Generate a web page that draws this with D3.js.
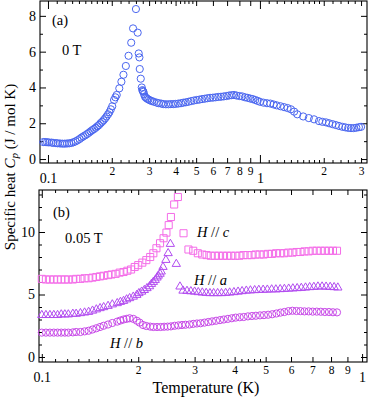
<!DOCTYPE html>
<html>
<head>
<meta charset="utf-8">
<script src="https://cdn.jsdelivr.net/npm/d3@7"></script>
<style>
  html, body { margin: 0; padding: 0; background: #fff; }
  svg { display: block; }
  svg text { font-family: "Liberation Serif", "DejaVu Serif", serif; fill: #000; }
</style>
</head>
<body>
<div id="chart"></div>
<script>
// ---- data ----
// panel (a): 0 T
const tempA = [0.095, 0.097, 0.099, 0.101, 0.104, 0.106, 0.109, 0.111, 0.114, 0.117, 0.120, 0.123,
  0.126, 0.129, 0.132, 0.135, 0.138, 0.141, 0.144, 0.147, 0.150, 0.153, 0.156, 0.159, 0.162, 0.165,
  0.168, 0.171, 0.174, 0.177, 0.180, 0.183, 0.186, 0.189, 0.192, 0.195, 0.198, 0.201, 0.205, 0.208,
  0.211, 0.217, 0.222, 0.227, 0.233, 0.240, 0.247, 0.252, 0.260, 0.265, 0.268, 0.270, 0.271, 0.274,
  0.277, 0.279, 0.280, 0.282, 0.284, 0.287, 0.290, 0.294, 0.298, 0.303, 0.309, 0.316, 0.326, 0.333,
  0.342, 0.350, 0.360, 0.370, 0.380, 0.390, 0.400, 0.412, 0.424, 0.435, 0.447, 0.460, 0.474, 0.488,
  0.503, 0.518, 0.533, 0.549, 0.565, 0.582, 0.600, 0.618, 0.636, 0.655, 0.675, 0.695, 0.715, 0.735,
  0.755, 0.775, 0.800, 0.825, 0.850, 0.875, 0.900, 0.925, 0.950, 0.975, 1.00, 1.04, 1.08, 1.12,
  1.16, 1.20, 1.25, 1.30, 1.35, 1.40, 1.45, 1.50, 1.60, 1.70, 1.80, 1.90, 1.97, 2.05, 2.12, 2.20, 2.28,
  2.36, 2.45, 2.53, 2.61, 2.69, 2.77, 2.85, 2.93, 3.00];
const cpA = [0.95, 0.95, 0.94, 0.93, 0.92, 0.90, 0.89, 0.88, 0.87, 0.86, 0.86, 0.87,
  0.88, 0.90, 0.94, 0.99, 1.05, 1.12, 1.20, 1.27, 1.33, 1.40, 1.47, 1.55, 1.62, 1.68,
  1.75, 1.83, 1.90, 2.00, 2.08, 2.17, 2.27, 2.38, 2.50, 2.62, 2.78, 2.95, 3.30, 3.45,
  3.58, 3.95, 4.32, 4.71, 5.20, 5.77, 6.50, 7.30, 8.38, 7.06, 5.90, 5.68, 5.03, 4.49,
  4.00, 3.85, 3.80, 3.76, 3.62, 3.48, 3.42, 3.37, 3.33, 3.28, 3.24, 3.20, 3.15, 3.12,
  3.10, 3.07, 3.06, 3.06, 3.07, 3.07, 3.08, 3.10, 3.12, 3.15, 3.17, 3.20, 3.24, 3.27,
  3.30, 3.32, 3.35, 3.37, 3.40, 3.42, 3.43, 3.45, 3.47, 3.48, 3.50, 3.52, 3.55, 3.57,
  3.58, 3.55, 3.52, 3.50, 3.45, 3.42, 3.38, 3.35, 3.30, 3.25, 3.20, 3.15, 3.12, 3.10,
  3.05, 3.00, 2.95, 2.90, 2.85, 2.78, 2.65, 2.50, 2.38, 2.29, 2.22, 2.12, 2.08, 2.05, 2.00, 1.95, 1.90,
  1.85, 1.80, 1.77, 1.74, 1.73, 1.73, 1.75, 1.78, 1.80];

// panel (b): 0.05 T, H // c (squares)
const tempC = [0.100, 0.103, 0.106, 0.109, 0.112, 0.115, 0.118, 0.121, 0.125, 0.128, 0.132, 0.136,
  0.140, 0.144, 0.148, 0.152, 0.156, 0.161, 0.165, 0.170, 0.175, 0.180, 0.185, 0.190, 0.195, 0.200,
  0.206, 0.212, 0.218, 0.223, 0.228, 0.234, 0.240, 0.245, 0.249, 0.253, 0.259, 0.266,
  0.277, 0.287, 0.297, 0.307, 0.317, 0.327, 0.337, 0.347, 0.357, 0.368, 0.379, 0.390, 0.402, 0.414,
  0.426, 0.439, 0.452, 0.465, 0.479, 0.493, 0.508, 0.523, 0.539, 0.555, 0.571, 0.588, 0.606, 0.624,
  0.642, 0.661, 0.681, 0.701, 0.722, 0.743, 0.765, 0.788, 0.811, 0.835];
const cpC = [6.25, 6.20, 6.20, 6.20, 6.20, 6.20, 6.20, 6.20, 6.20, 6.25, 6.25, 6.30,
  6.30, 6.35, 6.40, 6.45, 6.50, 6.55, 6.60, 6.65, 6.75, 6.80, 6.90, 7.00, 7.20, 7.35,
  7.55, 7.75, 8.00, 8.30, 8.70, 9.10, 9.50, 9.95, 10.55, 11.2, 12.2, 12.8,
  9.90, 8.60, 8.50, 8.30, 8.20, 8.15, 8.10, 8.10, 8.10, 8.10, 8.10, 8.10, 8.10, 8.10,
  8.15, 8.15, 8.15, 8.20, 8.20, 8.20, 8.25, 8.25, 8.30, 8.30, 8.30, 8.35, 8.35, 8.40,
  8.40, 8.45, 8.45, 8.50, 8.50, 8.50, 8.50, 8.50, 8.50, 8.50];

// H // a (triangles)
const tempAa = [0.100, 0.103, 0.106, 0.109, 0.112, 0.115, 0.118, 0.121, 0.125, 0.128, 0.132, 0.136,
  0.140, 0.144, 0.148, 0.152, 0.156, 0.161, 0.166, 0.172, 0.176, 0.180, 0.184, 0.188, 0.193, 0.198,
  0.201, 0.205, 0.209, 0.213, 0.217, 0.220, 0.223, 0.226, 0.229, 0.231, 0.234, 0.236, 0.239, 0.244,
  0.248, 0.252, 0.263, 0.270, 0.276, 0.284, 0.292, 0.300, 0.308, 0.317, 0.326, 0.335, 0.344, 0.354,
  0.364, 0.375, 0.386, 0.398, 0.410, 0.422, 0.435, 0.448, 0.462, 0.476, 0.491, 0.506, 0.522, 0.538,
  0.555, 0.572, 0.590, 0.608, 0.627, 0.646, 0.666, 0.686, 0.707, 0.728, 0.750, 0.772, 0.795, 0.818, 0.840];
const cpAa = [3.35, 3.35, 3.35, 3.35, 3.35, 3.40, 3.40, 3.40, 3.45, 3.45, 3.50, 3.55,
  3.60, 3.70, 3.80, 3.90, 3.98, 4.08, 4.20, 4.30, 4.40, 4.48, 4.60, 4.70, 4.82, 4.96,
  5.10, 5.22, 5.35, 5.50, 5.65, 5.84, 6.00, 6.16, 6.35, 6.50, 6.65, 6.83, 7.20, 7.76,
  8.30, 9.04, 7.44, 5.63, 5.30, 5.28, 5.25, 5.22, 5.18, 5.15, 5.12, 5.10, 5.10, 5.10,
  5.10, 5.12, 5.15, 5.18, 5.22, 5.26, 5.30, 5.32, 5.34, 5.36, 5.37, 5.38, 5.40, 5.40,
  5.42, 5.44, 5.46, 5.48, 5.50, 5.52, 5.55, 5.58, 5.60, 5.63, 5.63, 5.62, 5.60, 5.58, 5.55];

// H // b (circles)
const tempB = [0.100, 0.103, 0.106, 0.109, 0.112, 0.115, 0.118, 0.121, 0.125, 0.128, 0.132, 0.136,
  0.140, 0.144, 0.148, 0.152, 0.156, 0.161, 0.166, 0.172, 0.176, 0.180, 0.184, 0.188, 0.193, 0.198,
  0.202, 0.207, 0.212, 0.218, 0.223, 0.229, 0.235, 0.241, 0.247, 0.253, 0.260, 0.267, 0.274, 0.281,
  0.289, 0.297, 0.305, 0.313, 0.322, 0.331, 0.340, 0.350, 0.360, 0.370, 0.381, 0.392, 0.403, 0.415,
  0.427, 0.440, 0.453, 0.466, 0.480, 0.494, 0.509, 0.524, 0.540, 0.556, 0.572, 0.589, 0.606, 0.624,
  0.642, 0.661, 0.681, 0.701, 0.722, 0.743, 0.765, 0.788, 0.811, 0.835];
const cpB = [1.95, 1.95, 1.95, 1.95, 1.95, 1.95, 1.95, 1.95, 1.97, 2.00, 2.00, 2.05,
  2.10, 2.20, 2.30, 2.40, 2.50, 2.60, 2.72, 2.83, 2.92, 3.00, 3.05, 3.10, 3.05, 2.90,
  2.75, 2.56, 2.48, 2.43, 2.40, 2.40, 2.40, 2.42, 2.43, 2.45, 2.50, 2.53, 2.56, 2.58,
  2.60, 2.65, 2.68, 2.70, 2.75, 2.80, 2.85, 2.90, 2.95, 3.00, 3.05, 3.10, 3.15, 3.18,
  3.20, 3.25, 3.28, 3.30, 3.33, 3.35, 3.38, 3.42, 3.48, 3.55, 3.60, 3.67, 3.70, 3.68,
  3.67, 3.65, 3.65, 3.63, 3.63, 3.62, 3.60, 3.60, 3.58, 3.57];

// tick labels
const yTicksA = [0, 2, 4, 6, 8];
const yTicksB = [0, 5, 10];
const xMajor = [0.1, 1];
const xLabelsA = [0.2, 0.3, 0.4, 0.5, 0.6, 0.7, 0.8, 0.9, 2, 3];
const xLabelsB = [0.2, 0.3, 0.4, 0.5, 0.6, 0.7, 0.8, 0.9];

// ---- drawing ----
const W = 368, H = 400;
const FONT = '"Liberation Serif", "DejaVu Serif", serif';
const svg = d3.select('#chart').append('svg')
  .attr('width', W).attr('height', H)
  .attr('font-family', FONT);

// small log ticks: 0.01 steps in 1-2, 0.02 steps in 2-5 (scaled by decade)
function smallTicks(lo, hi) {
  const out = [];
  for (const dec of [0.1, 1]) {
    for (let k = 11; k < 20; k++) out.push(+(dec * k / 10).toFixed(4));
    for (let k = 22; k < 50; k += 2) if (k % 10 !== 0) out.push(+(dec * k / 10).toFixed(4));
  }
  return out.filter(v => v > lo && v < hi);
}

function panel(opts) {
  const { x, y, yTicks, yMinor, xLabels, top, bottom, left, right } = opts;
  const g = svg.append('g');
  const strip = sel => sel.call(s => s.select('.domain').remove())
    .attr('font-family', FONT);

  // frame
  g.append('rect')
    .attr('x', left).attr('y', top)
    .attr('width', right - left).attr('height', bottom - top)
    .attr('fill', 'none').attr('stroke', '#000').attr('stroke-width', 1.1);

  // bottom: major, labelled minor, small
  g.append('g').attr('transform', `translate(0,${bottom})`)
    .call(d3.axisBottom(x).tickValues(xMajor).tickSize(-8).tickPadding(10)
      .tickFormat(d => d === 1 ? '1' : '0.1'))
    .call(strip)
    .selectAll('text').attr('font-size', 14);
  g.append('g').attr('transform', `translate(0,${bottom})`)
    .call(d3.axisBottom(x).tickValues(xLabels).tickSize(-5).tickPadding(4)
      .tickFormat(d => d < 1 ? String(Math.round(d * 10)) : String(d)))
    .call(strip)
    .selectAll('text').attr('font-size', 11.5);
  g.append('g').attr('transform', `translate(0,${bottom})`)
    .call(d3.axisBottom(x).tickValues(smallTicks(...x.domain())).tickSize(-3).tickFormat(''))
    .call(strip);

  // top mirror
  g.append('g').attr('transform', `translate(0,${top})`)
    .call(d3.axisTop(x).tickValues(xMajor).tickSize(-8).tickFormat('')).call(strip);
  g.append('g').attr('transform', `translate(0,${top})`)
    .call(d3.axisTop(x).tickValues(xLabels).tickSize(-5).tickFormat('')).call(strip);
  g.append('g').attr('transform', `translate(0,${top})`)
    .call(d3.axisTop(x).tickValues(smallTicks(...x.domain())).tickSize(-3).tickFormat('')).call(strip);

  // left / right
  g.append('g').attr('transform', `translate(${left},0)`)
    .call(d3.axisLeft(y).tickValues(yTicks).tickSize(-6).tickPadding(4).tickFormat(d3.format('d')))
    .call(strip)
    .selectAll('text').attr('font-size', 14);
  g.append('g').attr('transform', `translate(${left},0)`)
    .call(d3.axisLeft(y).tickValues(yMinor).tickSize(-3).tickFormat('')).call(strip);
  g.append('g').attr('transform', `translate(${right},0)`)
    .call(d3.axisRight(y).tickValues(yTicks).tickSize(-6).tickFormat('')).call(strip);
  g.append('g').attr('transform', `translate(${right},0)`)
    .call(d3.axisRight(y).tickValues(yMinor).tickSize(-3).tickFormat('')).call(strip);

  g.selectAll('.tick line').attr('stroke', '#000').attr('stroke-width', 1);
  return g;
}

// panel (a)
const xa = d3.scaleLog().domain([0.0917, 3.2]).range([40, 367]);
const ya = d3.scaleLinear().domain([-0.22, 8.83]).range([163, 1]);
const ga = panel({ x: xa, y: ya, yTicks: yTicksA, yMinor: [1, 3, 5, 7],
  xLabels: xLabelsA, top: 1, bottom: 163, left: 40, right: 367 });

ga.append('g').selectAll('circle')
  .data(d3.zip(tempA, cpA))
  .enter().append('circle')
  .attr('cx', d => xa(d[0])).attr('cy', d => ya(d[1]))
  .attr('r', 3.6)
  .attr('fill', 'none').attr('stroke', '#4a66f0').attr('stroke-width', 1);

ga.append('text').attr('x', 52).attr('y', 25).attr('font-size', 14.5).text('(a)');
ga.append('text').attr('x', 62).attr('y', 55).attr('font-size', 14.5).text('0 T');

// panel (b)
const xb = d3.scaleLog().domain([0.098, 1.036]).range([39, 367]);
const yb = d3.scaleLinear().domain([-0.4, 13.36]).range([362, 190]);
const gb = panel({ x: xb, y: yb, yTicks: yTicksB, yMinor: [1, 2, 3, 4, 6, 7, 8, 9, 11, 12, 13],
  xLabels: xLabelsB, top: 190, bottom: 362, left: 39, right: 367 });

gb.append('g').selectAll('path')
  .data(d3.zip(tempC, cpC))
  .enter().append('path')
  .attr('d', d3.symbol(d3.symbolSquare, 50))
  .attr('transform', d => `translate(${xb(d[0])},${yb(d[1])})`)
  .attr('fill', 'none').attr('stroke', '#f46ce8').attr('stroke-width', 1);

gb.append('g').selectAll('path')
  .data(d3.zip(tempAa, cpAa))
  .enter().append('path')
  .attr('d', d3.symbol(d3.symbolTriangle, 30))
  .attr('transform', d => `translate(${xb(d[0])},${yb(d[1])})`)
  .attr('fill', 'none').attr('stroke', '#b24cf0').attr('stroke-width', 1);

gb.append('g').selectAll('circle')
  .data(d3.zip(tempB, cpB))
  .enter().append('circle')
  .attr('cx', d => xb(d[0])).attr('cy', d => yb(d[1]))
  .attr('r', 3.6)
  .attr('fill', 'none').attr('stroke', '#c84ae8').attr('stroke-width', 1);

gb.append('text').attr('x', 53).attr('y', 217).attr('font-size', 14.5).text('(b)');
gb.append('text').attr('x', 65).attr('y', 243).attr('font-size', 14.5).text('0.05 T');

function fieldLabel(x, y, axis) {
  const t = gb.append('text').attr('x', x).attr('y', y).attr('font-size', 14.5);
  t.append('tspan').attr('font-style', 'italic').text('H');
  t.append('tspan').text(' // ');
  t.append('tspan').attr('font-style', 'italic').text(axis);
}
fieldLabel(197, 237, 'c');
fieldLabel(194, 285, 'a');
fieldLabel(110, 348, 'b');

// axis titles
svg.append('text').attr('x', 206).attr('y', 393)
  .attr('text-anchor', 'middle').attr('font-size', 16).text('Temperature (K)');

const yt = svg.append('text')
  .attr('transform', 'translate(15,167) rotate(-90)')
  .attr('text-anchor', 'middle').attr('font-size', 15);
yt.append('tspan').text('Specific heat ');
yt.append('tspan').attr('font-style', 'italic').text('C');
yt.append('tspan').attr('font-style', 'italic').attr('font-size', 11).attr('dy', 3).text('p');
yt.append('tspan').attr('dy', -3).text(' (J / mol K)');
</script>
</body>
</html>
